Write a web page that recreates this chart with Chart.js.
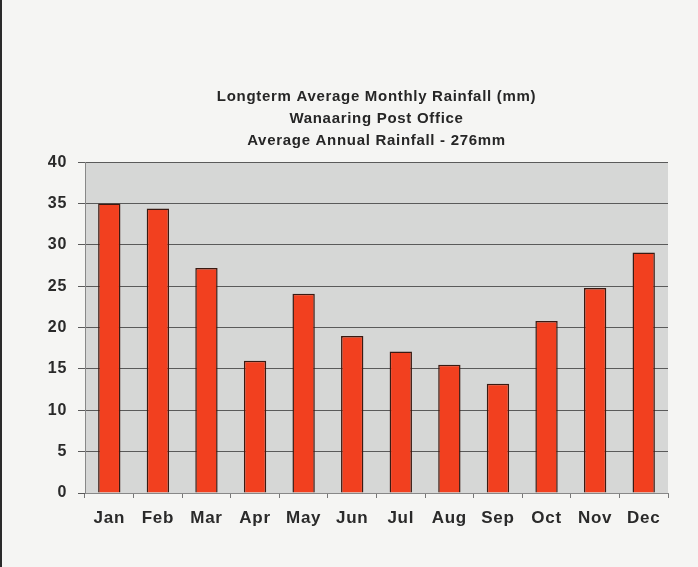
<!DOCTYPE html>
<html>
<head>
<meta charset="utf-8">
<script src="https://cdn.jsdelivr.net/npm/chart.js@4/dist/chart.umd.min.js"></script>
<style>
  html, body { margin: 0; padding: 0; background: #f5f5f3; }
  #wrap { position: relative; width: 698px; height: 567px; }
  #edge { position: absolute; left: 0; top: 0; width: 2px; height: 567px; background: #2a2a2a; }
  canvas { display: block; }
</style>
</head>
<body>
<div id="wrap"><canvas id="c" width="698" height="567"></canvas><div id="edge"></div></div>
<script>
const months = ["Jan","Feb","Mar","Apr","May","Jun","Jul","Aug","Sep","Oct","Nov","Dec"];
const rainfall = [35.0, 34.4, 27.2, 16.0, 24.1, 19.0, 17.1, 15.5, 13.2, 20.8, 24.8, 29.1];
const yTicks = [0, 5, 10, 15, 20, 25, 30, 35, 40];
const titleLines = ["Longterm Average Monthly Rainfall (mm)", "Wanaaring Post Office", "Average Annual Rainfall - 276mm"];

const plotBg = {
  id: 'plotBg',
  beforeDraw(chart) {
    const a = chart.chartArea, ctx = chart.ctx;
    ctx.save();
    ctx.fillStyle = '#d6d7d6';
    ctx.fillRect(a.left, a.top, a.right - a.left, a.bottom - a.top);
    ctx.restore();
    ctx.letterSpacing = '0.7px';
  }
};

new Chart(document.getElementById('c'), {
  type: 'bar',
  data: {
    labels: months,
    datasets: [{
      data: rainfall,
      backgroundColor: '#f2401f',
      borderColor: '#3a1a12',
      borderWidth: 1.5,
      barPercentage: 0.46,
      categoryPercentage: 1.0
    }]
  },
  options: {
    responsive: false,
    animation: false,
    layout: { padding: { left: 0, right: 30, top: 84, bottom: 28 } },
    plugins: {
      legend: { display: false },
      tooltip: { enabled: false },
      title: {
        display: true,
        fullSize: false,
        text: titleLines,
        color: '#262626',
        font: { family: 'Liberation Sans, Arial, sans-serif', size: 15, weight: 'bold', lineHeight: 1.45 },
        padding: { top: 2, bottom: 11 }
      }
    },
    scales: {
      x: {
        grid: { display: true, drawOnChartArea: false, drawTicks: true, tickLength: 5, color: '#777', offset: true },
        border: { color: '#888', width: 1 },
        ticks: {
          color: '#2a2a2a',
          padding: 10,
          font: { family: 'Liberation Sans, Arial, sans-serif', size: 17, weight: 'bold' }
        },
        afterFit(scale) { scale.height = 46; }
      },
      y: {
        min: 0, max: 40,
        afterBuildTicks(scale) { scale.ticks = yTicks.map(v => ({ value: v })); },
        grid: { color: '#5a5a5a', lineWidth: 1, tickLength: 7, drawTicks: true },
        border: { color: '#888', width: 1 },
        ticks: {
          color: '#2a2a2a',
          padding: 11,
          font: { family: 'Liberation Sans, Arial, sans-serif', size: 16, weight: 'bold' }
        },
        afterFit(scale) { scale.width = 85; }
      }
    }
  },
  plugins: [plotBg]
});
</script>
</body>
</html>
